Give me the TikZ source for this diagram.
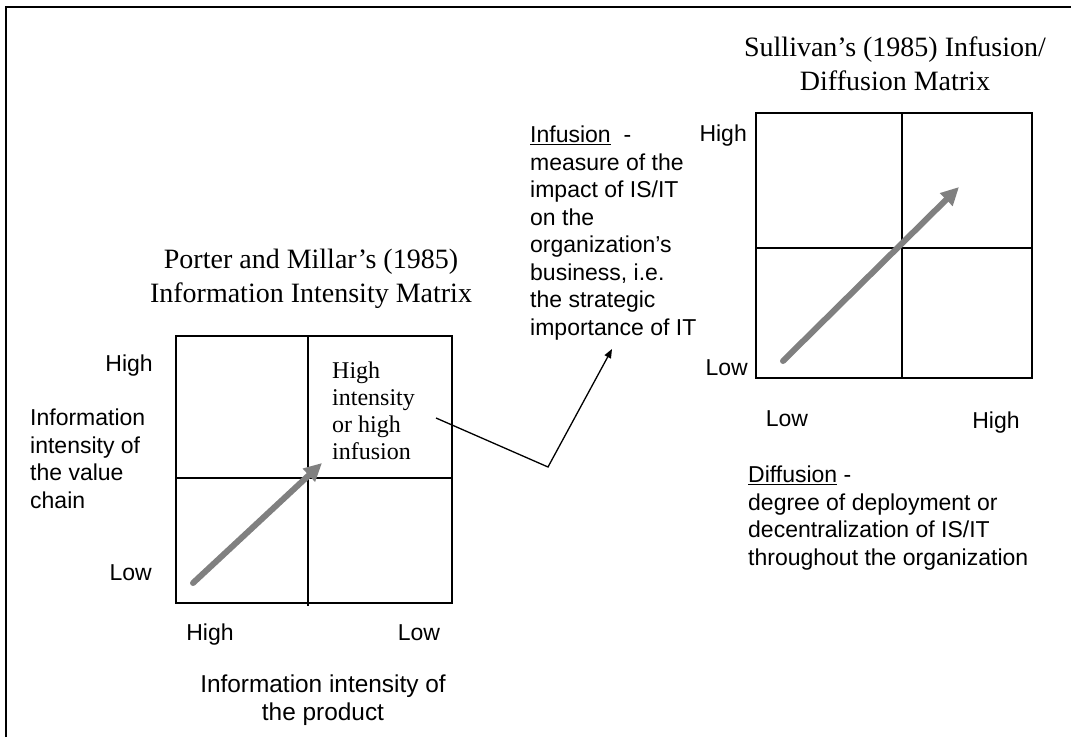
\documentclass[tikz,border=0pt]{standalone}
\usepackage{fontspec}
\setmainfont{Liberation Serif}
\newfontfamily\arialf{Liberation Sans}
\usetikzlibrary{arrows.meta}
\definecolor{arrowgray}{RGB}{128,128,128}
\begin{document}
\begin{tikzpicture}[x=1pt,y=-1pt,
  lbl/.style={font=\arialf\fontsize{23}{27.5}\selectfont, inner sep=0pt},
  biglbl/.style={font=\arialf\fontsize{24.4}{28}\selectfont, inner sep=0pt},
  ttl/.style={font=\fontsize{28}{34}\selectfont, inner sep=0pt, align=center},
  boxtxt/.style={font=\fontsize{24}{27}\selectfont, inner sep=0pt, align=left},
  gridline/.style={line width=1.6pt},
  bigarrow/.style={draw=arrowgray, fill=arrowgray, line width=6pt, line cap=round,
    -{Triangle[length=18pt,width=17pt]}},
  conn/.style={line width=1.3pt, -{Triangle[length=9pt,width=7pt]}}]
\useasboundingbox (0,0) rectangle (1071,737);
% frame
\draw[line width=2pt] (6,737) -- (6,7) -- (1071,7);

% Porter and Millar matrix
\draw[gridline] (176,336) rectangle (452,603);
\draw[gridline] (308,336) -- (308,606);
\draw[gridline] (176,478) -- (453,478);
\node[ttl, anchor=north] (ptitle) at (311,249) {Porter and Millar’s (1985)\\Information Intensity Matrix};
\node[lbl, anchor=base east] (lhigh) at (153,371) {High};
\node[lbl, anchor=base east] (llow) at (152,580) {Low};
\node[lbl, anchor=base] (bhigh) at (210,640) {High};
\node[lbl, anchor=base] (blow) at (419,640) {Low};
\node[lbl, anchor=north west, align=left] (ylab) at (30,409) {Information\\intensity of\\the value\\chain};
\node[biglbl, anchor=north, align=center] (xlab) at (323,675) {Information intensity of\\the product};
\node[boxtxt, anchor=north west] (hi) at (332,362) {High\\intensity\\or high\\infusion};
\coordinate (pa1) at (193,583);
\coordinate (pa2) at (322,463);
\draw[bigarrow] (pa1) -- (pa2);

% Sullivan matrix
\draw[gridline] (756,113) rectangle (1032,378);
\draw[gridline] (902,113) -- (902,378);
\draw[gridline] (756,248) -- (1032,248);
\node[ttl, anchor=north] (stitle) at (895,37) {Sullivan’s (1985) Infusion/\\Diffusion Matrix};
\node[lbl, anchor=base east] (rhigh) at (747,141) {High};
\node[lbl, anchor=base east] (rlow) at (748,375) {Low};
\node[lbl, anchor=base] (rblow) at (787,426) {Low};
\node[lbl, anchor=base] (rbhigh) at (996,428) {High};
\coordinate (sa1) at (783,361);
\coordinate (sa2) at (959,187);
\draw[bigarrow] (sa1) -- (sa2);

% Infusion / Diffusion definitions
\node[lbl, anchor=north west, align=left] (inf) at (530,126) {\underline{Infusion}\ \ -\\measure of the\\impact of IS/IT\\on the\\organization’s\\business, i.e.\\the strategic\\importance of IT};
\node[lbl, anchor=north west, align=left] (dif) at (748,466) {\underline{Diffusion} -\\degree of deployment or\\decentralization of IS/IT\\throughout the organization};

% connector
\coordinate (c0) at (436,418);
\coordinate (c1) at (548,467);
\coordinate (c2) at (612,349);
\draw[conn] (c0) -- (c1) -- (c2);
\end{tikzpicture}
\end{document}
